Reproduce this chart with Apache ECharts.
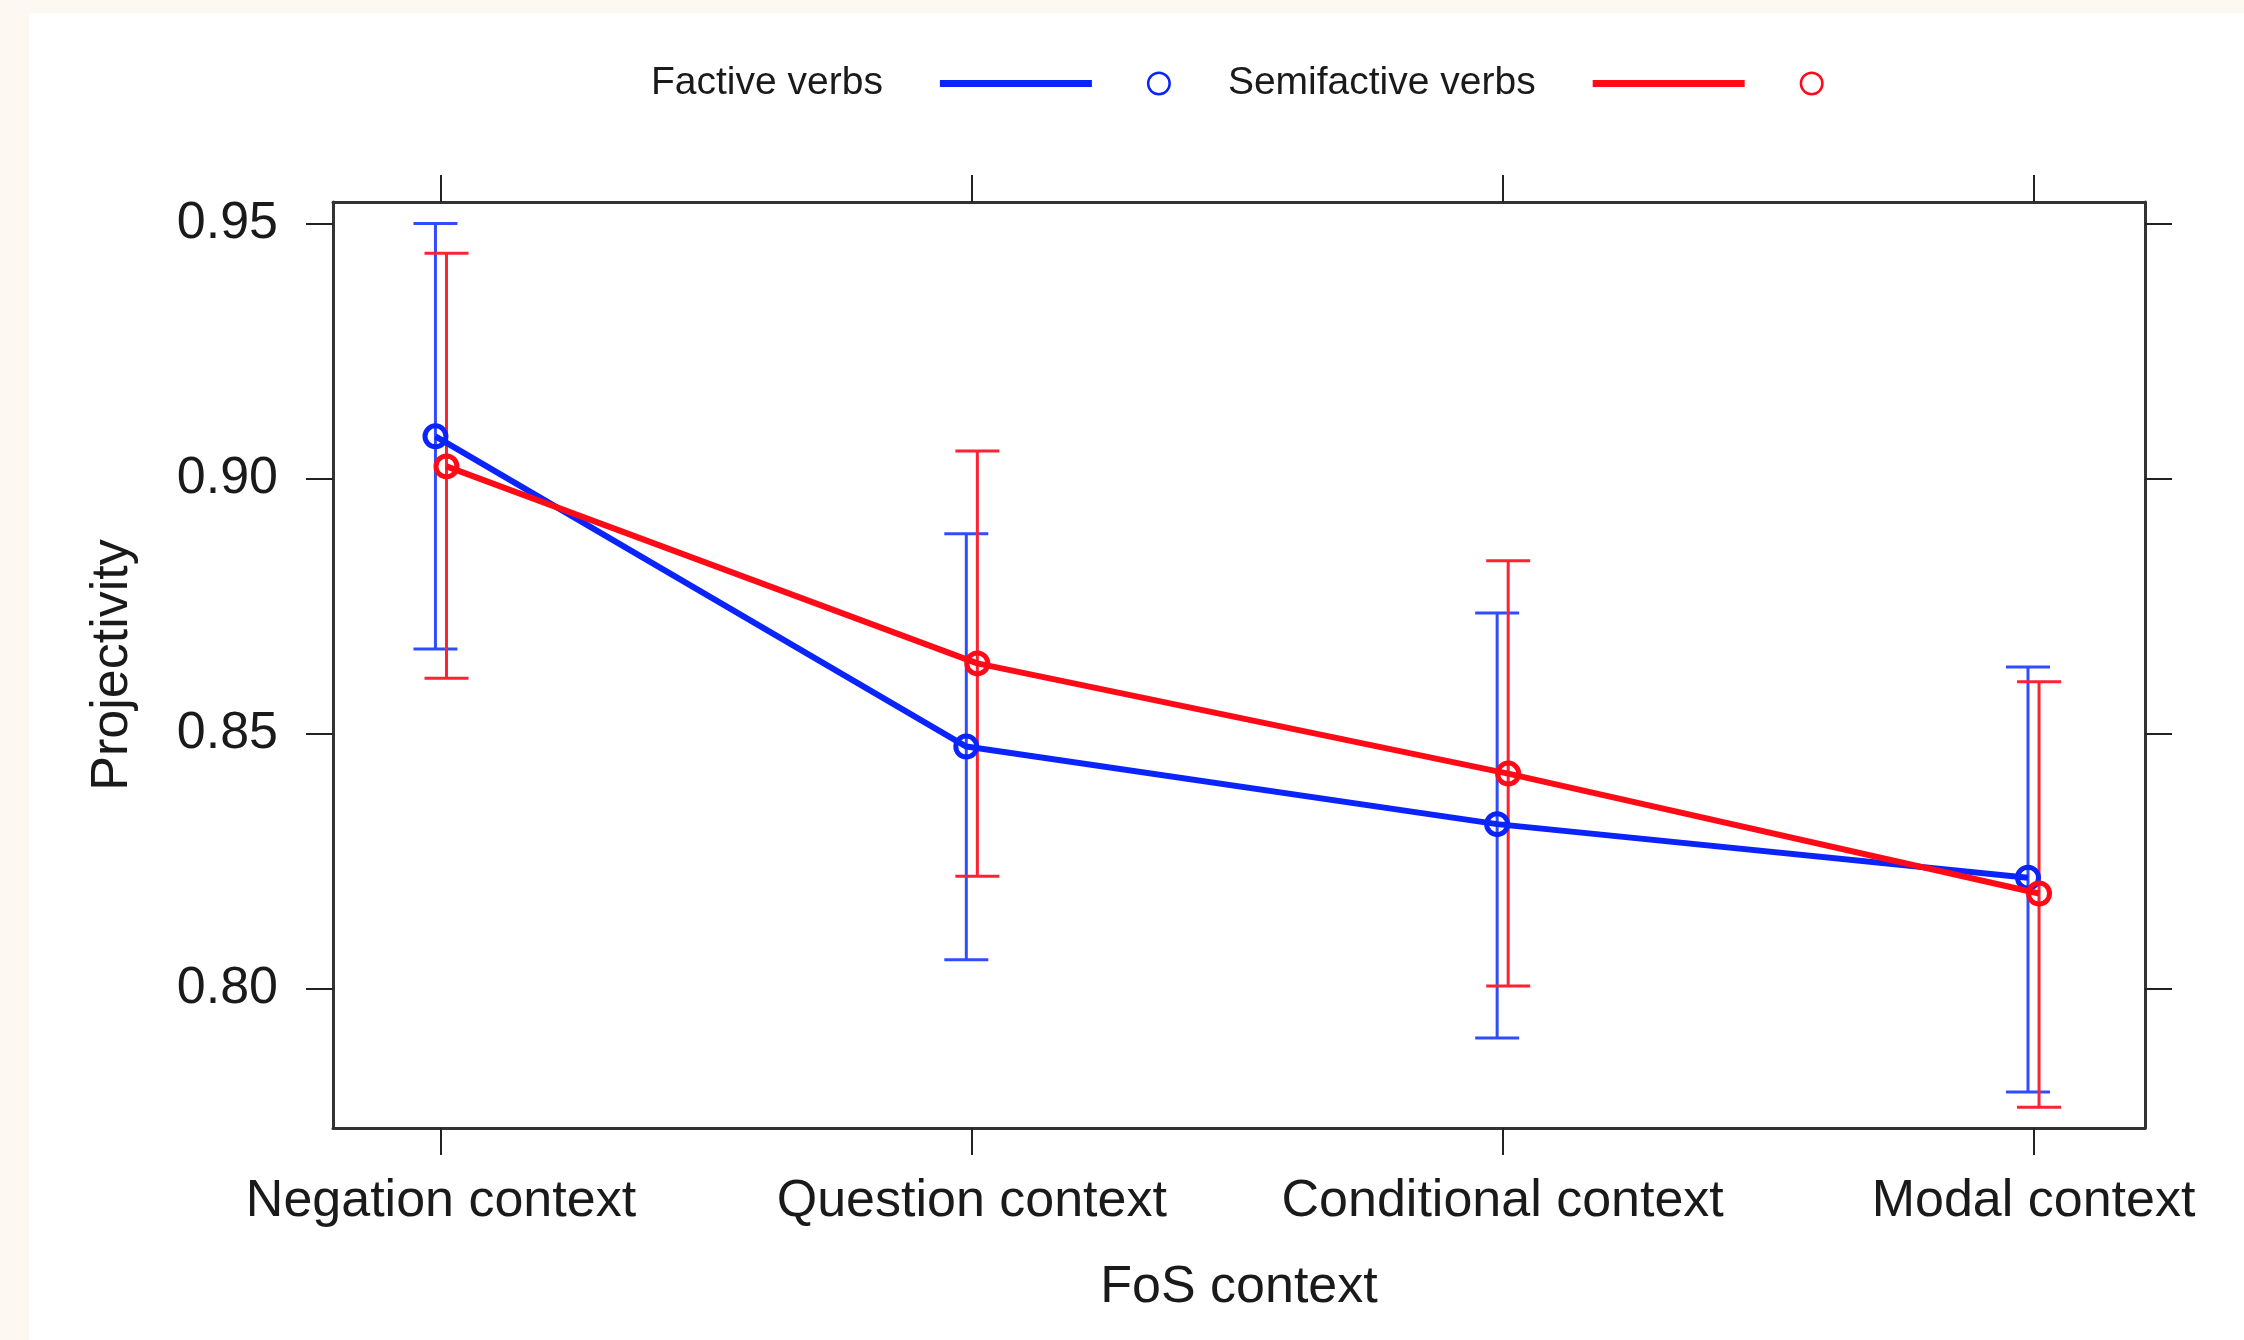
<!DOCTYPE html>
<html>
<head>
<meta charset="utf-8">
<title>Projectivity by FoS context</title>
<script src="https://cdn.jsdelivr.net/npm/echarts@6/dist/echarts.min.js"></script>
<style>
  html, body { margin: 0; padding: 0; }
  body { width: 2244px; height: 1340px; background: #fef8f3; position: relative; overflow: hidden; }
  #chart { position: absolute; left: 29px; top: 13px; width: 2215px; height: 1327px; background: #ffffff; }
</style>
</head>
<body>
<div id="chart"></div>
<script>
// Contexts on the x axis
const categories = ['Negation context', 'Question context', 'Conditional context', 'Modal context'];

// Factive verbs: mean projectivity and interval bounds
const factiveMean  = [0.9083, 0.8475, 0.8323, 0.8218];
const factiveLower = [0.8666, 0.8057, 0.7904, 0.7798];
const factiveUpper = [0.9500, 0.8892, 0.8737, 0.8631];

// Semifactive verbs: mean projectivity and interval bounds
const semiMean  = [0.9024, 0.8638, 0.8422, 0.8187];
const semiLower = [0.8609, 0.8221, 0.8006, 0.7768];
const semiUpper = [0.9442, 0.9054, 0.8839, 0.8602];

// Y tick values
const yTicks = [0.80, 0.85, 0.90, 0.95];

const FONT = "'Liberation Sans', Arial, Helvetica, sans-serif";
const BLUE = '#0b24fb';
const RED = '#ff0a16';
const BLUE_BAR = '#2f4dff';
const RED_BAR = '#ff2233';
const TEXT = '#1a1a1a';
const AXIS = '#333333';
const DODGE = 0.0104;      // horizontal offset between the two groups
const CAP_HALF = 22;       // half width of error-bar caps, px

const xTickValues = categories.map((_, i) => i + 1);
const X_MIN = 0.7966, X_MAX = 4.21;
const Y_MIN = 0.77275, Y_MAX = 0.95422;

const toPoints = (means, shift) => means.map((v, i) => [i + 1 + shift, v]);
const toBars = (lo, hi, shift) => lo.map((v, i) => [i + 1 + shift, v, hi[i]]);

function errorBar(color) {
  return function (params, api) {
    const x = api.value(0);
    const pLo = api.coord([x, api.value(1)]);
    const pHi = api.coord([x, api.value(2)]);
    const style = { stroke: color, lineWidth: 3 };
    return {
      type: 'group',
      children: [
        { type: 'line', shape: { x1: pLo[0], y1: pHi[1], x2: pLo[0], y2: pLo[1] }, style },
        { type: 'line', shape: { x1: pHi[0] - CAP_HALF, y1: pHi[1], x2: pHi[0] + CAP_HALF, y2: pHi[1] }, style },
        { type: 'line', shape: { x1: pLo[0] - CAP_HALF, y1: pLo[1], x2: pLo[0] + CAP_HALF, y2: pLo[1] }, style }
      ]
    };
  };
}

// Legend key: a line segment followed by an open circle
const KEY_ICON = 'path://M0,0M0,24M52,8.5L204,8.5L204,15.5L52,15.5Z' +
  'M259,12A12,12,0,1,0,283,12A12,12,0,1,0,259,12Z' +
  'M261.5,12A9.5,9.5,0,1,1,280.5,12A9.5,9.5,0,1,1,261.5,12Z';

const tickStyle = { show: true, inside: false, length: 27, lineStyle: { color: '#222', width: 2 } };
const lineStyleAxis = { show: true, onZero: false, lineStyle: { color: AXIS, width: 3 } };

const option = {
  animation: false,
  backgroundColor: '#ffffff',
  textStyle: { fontFamily: FONT },
  grid: { left: 304, top: 189, right: 99, bottom: 212, containLabel: false },
  legend: {
    left: 622, top: 51, padding: 0,
    align: 'right',
    itemGap: 57,
    itemWidth: 283, itemHeight: 24,
    icon: KEY_ICON,
    selectedMode: false,
    textStyle: { fontSize: 39, color: TEXT, fontFamily: FONT },
    itemStyle: { borderWidth: 0 },
    data: [
      { name: 'Factive verbs', itemStyle: { color: BLUE } },
      { name: 'Semifactive verbs', itemStyle: { color: RED } }
    ]
  },
  xAxis: [
    {
      type: 'value', position: 'bottom', min: X_MIN, max: X_MAX,
      axisLine: lineStyleAxis,
      axisTick: Object.assign({ customValues: xTickValues }, tickStyle),
      axisLabel: {
        customValues: xTickValues,
        formatter: v => categories[Math.round(v) - 1],
        fontSize: 52, color: TEXT, margin: 48, fontFamily: FONT
      },
      splitLine: { show: false },
      name: 'FoS context', nameLocation: 'middle', nameGap: 134,
      nameTextStyle: { fontSize: 52, color: TEXT, fontFamily: FONT }
    },
    {
      type: 'value', position: 'top', min: X_MIN, max: X_MAX,
      axisLine: lineStyleAxis,
      axisTick: Object.assign({ customValues: xTickValues }, tickStyle),
      axisLabel: { show: false },
      splitLine: { show: false }
    }
  ],
  yAxis: [
    {
      type: 'value', position: 'left', min: Y_MIN, max: Y_MAX,
      axisLine: lineStyleAxis,
      axisTick: Object.assign({ customValues: yTicks }, tickStyle),
      axisLabel: {
        customValues: yTicks,
        formatter: v => v.toFixed(2),
        fontSize: 52, color: TEXT, margin: 55, fontFamily: FONT
      },
      splitLine: { show: false },
      name: 'Projectivity', nameLocation: 'middle', nameGap: 194,
      nameTextStyle: { fontSize: 52, color: TEXT, fontFamily: FONT }
    },
    {
      type: 'value', position: 'right', min: Y_MIN, max: Y_MAX,
      axisLine: lineStyleAxis,
      axisTick: Object.assign({ customValues: yTicks }, tickStyle),
      axisLabel: { show: false },
      splitLine: { show: false }
    }
  ],
  series: [
    {
      type: 'custom', name: 'Factive verbs interval',
      renderItem: errorBar(BLUE_BAR),
      data: toBars(factiveLower, factiveUpper, -DODGE),
      encode: { x: 0, y: [1, 2] },
      z: 2, silent: true
    },
    {
      type: 'custom', name: 'Semifactive verbs interval',
      renderItem: errorBar(RED_BAR),
      data: toBars(semiLower, semiUpper, DODGE),
      encode: { x: 0, y: [1, 2] },
      z: 2, silent: true
    },
    {
      type: 'line', name: 'Factive verbs',
      data: toPoints(factiveMean, -DODGE),
      symbol: 'circle', symbolSize: 21,
      lineStyle: { color: BLUE, width: 6 },
      itemStyle: { color: 'rgba(0,0,0,0)', borderColor: BLUE, borderWidth: 5 },
      emphasis: { disabled: true },
      z: 3
    },
    {
      type: 'line', name: 'Semifactive verbs',
      data: toPoints(semiMean, DODGE),
      symbol: 'circle', symbolSize: 21,
      lineStyle: { color: RED, width: 6 },
      itemStyle: { color: 'rgba(0,0,0,0)', borderColor: RED, borderWidth: 5 },
      emphasis: { disabled: true },
      z: 4
    }
  ]
};

const chart = echarts.init(document.getElementById('chart'), null, { renderer: 'canvas' });
chart.setOption(option);
</script>
</body>
</html>
